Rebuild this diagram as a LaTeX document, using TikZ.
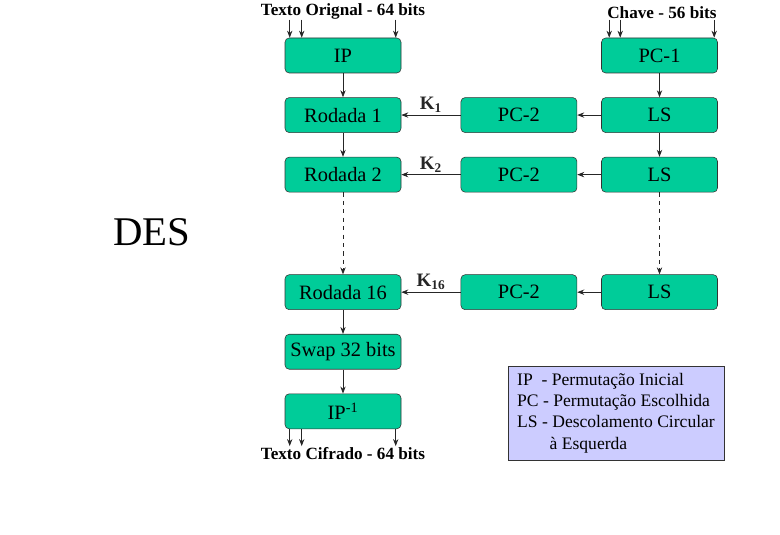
\documentclass[tikz,border=0pt]{standalone}
\usepackage{fontspec}
\setmainfont{Liberation Serif}
\usepackage{tikz}
\usetikzlibrary{arrows,arrows.meta,positioning,calc}

\definecolor{desgreen}{HTML}{00CC99}
\definecolor{legendblue}{HTML}{CCCCFF}

\begin{document}
\begin{tikzpicture}[
    node distance=0.6cm and 1.5cm,
    block/.style={rectangle, draw=black!80, fill=desgreen, minimum width=2.9cm, minimum height=0.875cm, inner sep=0pt, rounded corners=3pt, font=\fontsize{14.5}{16}\selectfont},
    title/.style={inner sep=0pt, font=\fontsize{12.2}{13}\selectfont\bfseries},
    klabel/.style={font=\fontsize{13.5}{14}\selectfont\bfseries, inner sep=1.5pt},
    legend/.style={rectangle, draw=black!80, fill=legendblue, minimum width=5.4cm, minimum height=2.35cm, align=left, font=\fontsize{12.5}{15.2}\selectfont},
    arrow/.style={-{Stealth[length=5pt, width=3.8pt]}, line width=0.6pt, black!85}
]
\useasboundingbox (0,0) rectangle (19.5,-13.375);

% Left column: data path
\node[block] (ip) at (8.575,-1.3875) {IP};
\node[block, below=of ip] (r1) {Rodada 1};
\node[block, below=of r1] (r2) {Rodada 2};
\node[block, below=2.05cm of r2] (r16) {Rodada 16};
\node[block, below=of r16] (swap) {Swap 32 bits};
\node[block, below=of swap] (ipinv) {IP\textsuperscript{-1}};

% Right column: key schedule
\node[block] (pc1) at (16.4875,-1.3875) {PC-1};
\node[block, below=of pc1] (ls1) {LS};
\node[block, below=of ls1] (ls2) {LS};
\node[block, below=2.05cm of ls2] (ls16) {LS};

% Middle column
\node[block, left=0.6cm of ls1] (pcb1) {PC-2};
\node[block, left=0.6cm of ls2] (pcb2) {PC-2};
\node[block, left=0.6cm of ls16] (pcb16) {PC-2};

% Inputs and output
\node[title, above=0.46cm of ip] (plain) {Texto Orignal - 64 bits};
\node[title, above=0.46cm of pc1, xshift=0.06cm] (key) {Chave - 56 bits};
\node[title, below=0.45cm of ipinv] (cipher) {Texto Cifrado - 64 bits};

% Title
\node at (3.8,-5.8) (des) {\fontsize{29}{32}\selectfont DES};

% Legend
\node[legend] (leg) at (15.4,-10.325) {IP\ \ - Permutação Inicial\\PC - Permutação Escolhida\\LS - Descolamento Circular\\\hspace*{1.85em}à Esquerda};

% Arrows
\foreach \dx in {0.125,0.425,2.775}
    \draw[arrow] ($(ip.north west)+(\dx,0.45)$) -- ($(ip.north west)+(\dx,0)$);
\foreach \dx in {0.2,0.475,2.825}
    \draw[arrow] ($(pc1.north west)+(\dx,0.45)$) -- ($(pc1.north west)+(\dx,0)$);
\foreach \dx in {0.125,0.425,2.775}
    \draw[arrow] ($(ipinv.south west)+(\dx,0)$) -- ($(ipinv.south west)+(\dx,-0.425)$);

\draw[arrow] (ip) -- (r1);
\draw[arrow] (r1) -- (r2);
\draw[arrow, dashed] (r2) -- (r16);
\draw[arrow] (r16) -- (swap);
\draw[arrow] (swap) -- (ipinv);

\draw[arrow] (pc1) -- (ls1);
\draw[arrow] (ls1) -- (ls2);
\draw[arrow, dashed] (ls2) -- (ls16);

\draw[arrow] (ls1) -- (pcb1);
\draw[arrow] (ls2) -- (pcb2);
\draw[arrow] (ls16) -- (pcb16);

\draw[arrow] (pcb1) -- (r1) node[klabel, midway, above] {K\textsubscript{1}};
\draw[arrow] (pcb2) -- (r2) node[klabel, midway, above] {K\textsubscript{2}};
\draw[arrow] (pcb16) -- (r16) node[klabel, midway, above] {K\textsubscript{16}};

\end{tikzpicture}
\end{document}
